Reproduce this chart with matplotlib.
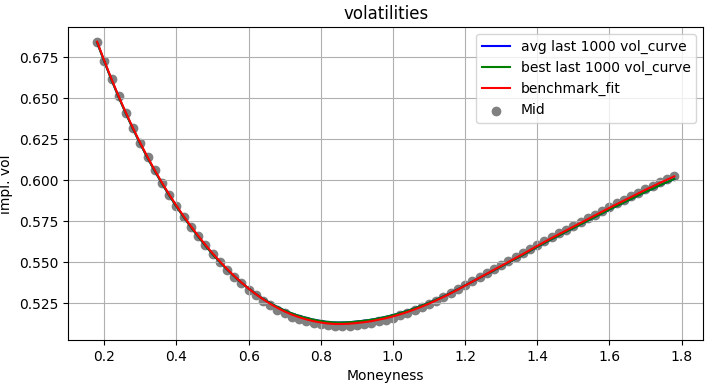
import matplotlib
matplotlib.use("Agg")
import matplotlib.pyplot as plt

moneyness = [0.18, 0.20, 0.22, 0.24, 0.26, 0.28, 0.30, 0.32, 0.34, 0.36,
             0.38, 0.40, 0.42, 0.44, 0.46, 0.48, 0.50, 0.52, 0.54, 0.56,
             0.58, 0.60, 0.62, 0.64, 0.66, 0.68, 0.70, 0.72, 0.74, 0.76,
             0.78, 0.80, 0.82, 0.84, 0.86, 0.88, 0.90, 0.92, 0.94, 0.96,
             0.98, 1.00, 1.02, 1.04, 1.06, 1.08, 1.10, 1.12, 1.14, 1.16,
             1.18, 1.20, 1.22, 1.24, 1.26, 1.28, 1.30, 1.32, 1.34, 1.36,
             1.38, 1.40, 1.42, 1.44, 1.46, 1.48, 1.50, 1.52, 1.54, 1.56,
             1.58, 1.60, 1.62, 1.64, 1.66, 1.68, 1.70, 1.72, 1.74, 1.76,
             1.78]

benchmark_fit = [0.6845, 0.6729, 0.6617, 0.6511, 0.6411, 0.6316, 0.6226, 0.6141, 0.6061, 0.5985,
                 0.5913, 0.5845, 0.5781, 0.5720, 0.5662, 0.5607, 0.5555, 0.5506, 0.5460, 0.5417,
                 0.5377, 0.5340, 0.5306, 0.5275, 0.5247, 0.5222, 0.5200, 0.5181, 0.5165, 0.5152,
                 0.5141, 0.5133, 0.5127, 0.5124, 0.5124, 0.5126, 0.5130, 0.5135, 0.5141, 0.5150,
                 0.5159, 0.5170, 0.5183, 0.5197, 0.5213, 0.5230, 0.5248, 0.5268, 0.5289, 0.5311,
                 0.5334, 0.5358, 0.5382, 0.5406, 0.5430, 0.5454, 0.5478, 0.5502, 0.5526, 0.5550,
                 0.5575, 0.5600, 0.5624, 0.5648, 0.5671, 0.5694, 0.5717, 0.5740, 0.5763, 0.5786,
                 0.5809, 0.5832, 0.5854, 0.5876, 0.5898, 0.5920, 0.5942, 0.5963, 0.5984, 0.6004,
                 0.6024]

best_curve = [0.6840, 0.6724, 0.6612, 0.6506, 0.6406, 0.6311, 0.6221, 0.6136, 0.6056, 0.5980,
              0.5908, 0.5840, 0.5776, 0.5715, 0.5657, 0.5602, 0.5550, 0.5502, 0.5457, 0.5415,
              0.5376, 0.5340, 0.5307, 0.5277, 0.5251, 0.5227, 0.5206, 0.5188, 0.5173, 0.5161,
              0.5150, 0.5142, 0.5136, 0.5133, 0.5133, 0.5135, 0.5139, 0.5144, 0.5150, 0.5158,
              0.5167, 0.5178, 0.5190, 0.5204, 0.5219, 0.5236, 0.5253, 0.5272, 0.5292, 0.5313,
              0.5336, 0.5359, 0.5382, 0.5405, 0.5428, 0.5451, 0.5475, 0.5498, 0.5522, 0.5545,
              0.5570, 0.5595, 0.5618, 0.5642, 0.5664, 0.5687, 0.5709, 0.5732, 0.5754, 0.5777,
              0.5799, 0.5822, 0.5843, 0.5865, 0.5886, 0.5908, 0.5929, 0.5949, 0.5970, 0.5989,
              0.6008]

avg_curve = [0.6840, 0.6724, 0.6612, 0.6506, 0.6406, 0.6311, 0.6221, 0.6136, 0.6056, 0.5980,
             0.5908, 0.5840, 0.5776, 0.5715, 0.5657, 0.5602, 0.5550, 0.5502, 0.5457, 0.5415,
             0.5376, 0.5340, 0.5307, 0.5277, 0.5251, 0.5227, 0.5206, 0.5188, 0.5173, 0.5161,
             0.5150, 0.5142, 0.5136, 0.5133, 0.5133, 0.5135, 0.5139, 0.5144, 0.5150, 0.5158,
             0.5167, 0.5178, 0.5190, 0.5204, 0.5219, 0.5236, 0.5253, 0.5272, 0.5292, 0.5313,
             0.5336, 0.5359, 0.5382, 0.5405, 0.5428, 0.5451, 0.5475, 0.5498, 0.5522, 0.5545,
             0.5570, 0.5595, 0.5618, 0.5642, 0.5664, 0.5687, 0.5709, 0.5732, 0.5754, 0.5777,
             0.5799, 0.5822, 0.5843, 0.5865, 0.5886, 0.5908, 0.5929, 0.5949, 0.5970, 0.5989,
             0.6008]

mid_vol = [0.6845, 0.6730, 0.6618, 0.6512, 0.6411, 0.6316, 0.6226, 0.6140, 0.6060, 0.5984,
           0.5912, 0.5843, 0.5779, 0.5718, 0.5660, 0.5605, 0.5552, 0.5503, 0.5456, 0.5412,
           0.5371, 0.5333, 0.5298, 0.5266, 0.5237, 0.5211, 0.5189, 0.5169, 0.5153, 0.5140,
           0.5129, 0.5121, 0.5115, 0.5112, 0.5112, 0.5114, 0.5118, 0.5123, 0.5130, 0.5140,
           0.5150, 0.5162, 0.5176, 0.5191, 0.5208, 0.5226, 0.5245, 0.5266, 0.5288, 0.5311,
           0.5335, 0.5360, 0.5385, 0.5410, 0.5434, 0.5459, 0.5483, 0.5507, 0.5531, 0.5555,
           0.5580, 0.5605, 0.5629, 0.5653, 0.5676, 0.5699, 0.5722, 0.5745, 0.5768, 0.5791,
           0.5814, 0.5837, 0.5859, 0.5881, 0.5903, 0.5925, 0.5947, 0.5968, 0.5989, 0.6009,
           0.6028]

fig, ax = plt.subplots(figsize=(7.11, 3.87), dpi=100)
fig.subplots_adjust(left=0.096, right=0.989, bottom=0.121, top=0.929)

ax.plot(moneyness, avg_curve, color='blue', label='avg last 1000 vol_curve')
ax.plot(moneyness, best_curve, color='green', label='best last 1000 vol_curve')
ax.plot(moneyness, benchmark_fit, color='red', label='benchmark_fit')
ax.scatter(moneyness, mid_vol, color='grey', s=36, label='Mid')

ax.set_title('volatilities')
ax.set_xlabel('Moneyness')
ax.set_ylabel('impl. vol')
ax.grid(True)
ax.legend(loc='upper right')

fig.savefig('out.png', dpi=100)
